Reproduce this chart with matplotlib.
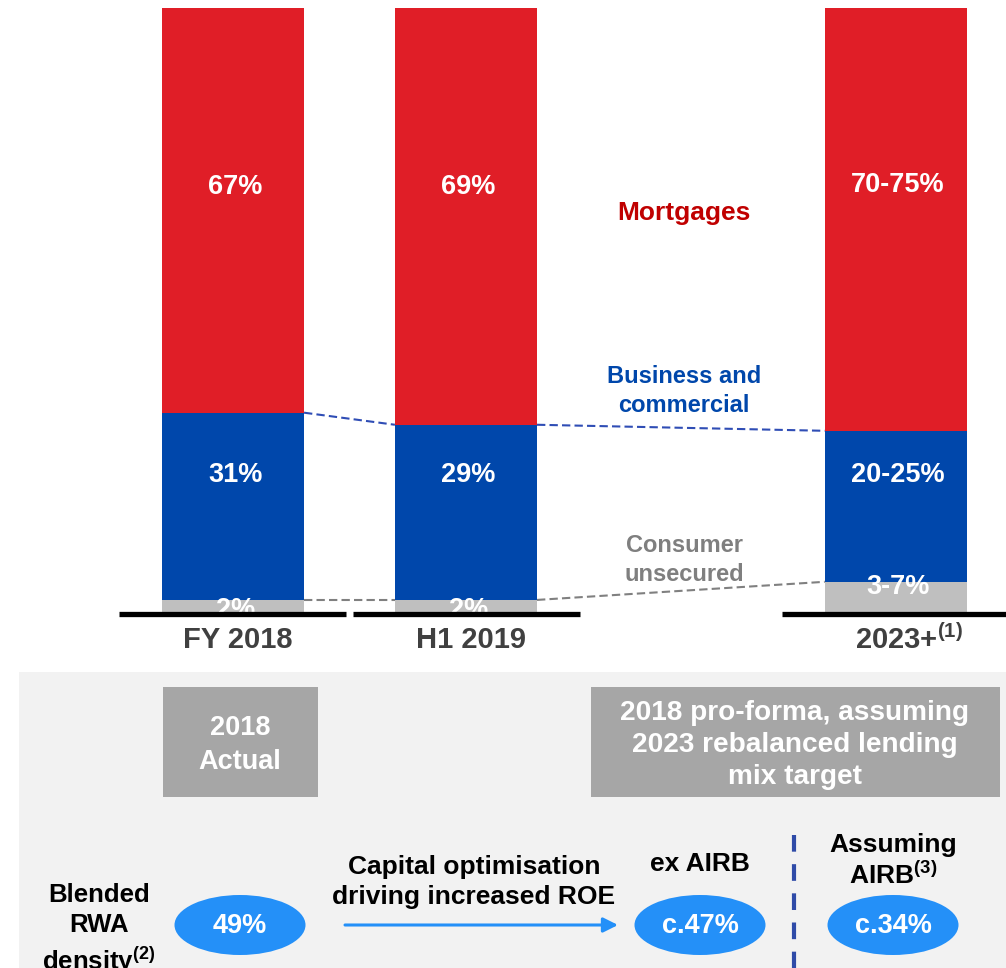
import numpy as np
import matplotlib.pyplot as plt
from matplotlib.patches import Rectangle, Ellipse

plt.rcParams['font.family'] = ['Liberation Sans', 'DejaVu Sans']
plt.rcParams['font.weight'] = 'bold'
plt.rcParams['mathtext.fontset'] = 'custom'
plt.rcParams['mathtext.rm'] = 'Liberation Sans:bold'
plt.rcParams['mathtext.default'] = 'rm'

# lending mix per period (% of book)
periods = ['FY 2018', 'H1 2019', '2023+$^{(1)}$']
consumer = [2, 2, 5]
business = [31, 29, 25]
mortgages = [67, 69, 70]
consumer_labels = ['2%', '2%', '3-7%']
business_labels = ['31%', '29%', '20-25%']
mortgage_labels = ['67%', '69%', '70-75%']

# RWA density row
rwa_values = ['49%', 'c.47%', 'c.34%']

RED = '#E01E27'
BLUE = '#0047AB'
GREY = '#BFBFBF'
LIGHT_BLUE = '#2490F8'

fig = plt.figure(figsize=(10.06, 9.68), dpi=100)

# ---- stacked bars ----
ax = fig.add_axes([0, 356 / 968, 1, 604 / 968])
ax.set_xlim(-1.0, 3.318)
ax.set_ylim(0, 100)
ax.axis('off')

x = np.array([0, 1, 2.845])
w = 0.61
cons = np.array(consumer)
bus = np.array(business)
mort = np.array(mortgages)

ax.bar(x, cons, w, color=GREY, zorder=2)
ax.bar(x, bus, w, bottom=cons, color=BLUE, zorder=2)
ax.bar(x, mort, w, bottom=cons + bus, color=RED, zorder=2)

# dashed connectors between segment tops
for i in range(len(x) - 1):
    xs = [x[i] + w / 2, x[i + 1] - w / 2]
    ax.plot(xs, [cons[i] + bus[i], cons[i + 1] + bus[i + 1]], color='#2F4DB5',
            lw=1.5, ls=(0, (4, 2)), zorder=1)
    ax.plot(xs, [cons[i], cons[i + 1]], color='#808080',
            lw=1.5, ls=(0, (4, 2)), zorder=1)

# in-bar labels
label_y_red = [70.4, 70.4, 70.7]
label_y_blue = [22.7, 22.7, 22.7]
label_y_grey = [0.3, 0.3, 4.2]
for i in range(len(x)):
    ax.text(x[i] + 0.01, label_y_red[i], mortgage_labels[i], color='white',
            fontsize=19.5, ha='center', va='center', zorder=3)
    ax.text(x[i] + 0.01, label_y_blue[i], business_labels[i], color='white',
            fontsize=19.5, ha='center', va='center', zorder=3)
    ax.text(x[i] + 0.01, label_y_grey[i], consumer_labels[i], color='white',
            fontsize=19.5, ha='center', va='center', zorder=3)

# baseline segments
for x0, x1 in [(-0.489, 0.485), (0.515, 1.489), (2.356, 3.318)]:
    ax.plot([x0, x1], [-0.35, -0.35], color='black', lw=3.8,
            solid_capstyle='butt', clip_on=False, zorder=4)

label_dx = [0.02, 0.02, 0.055]
for i in range(len(x)):
    ax.text(x[i] + label_dx[i], -4.6, periods[i], color='#404040', fontsize=21,
            ha='center', va='center', clip_on=False)

# series names
ax.text(1.936, 66.1, 'Mortgages', color='#C00000', fontsize=19,
        ha='center', va='center')
ax.text(1.936, 36.6, 'Business and\ncommercial', color=BLUE, fontsize=17,
        ha='center', va='center', linespacing=1.3)
ax.text(1.936, 8.6, 'Consumer\nunsecured', color='#7F7F7F', fontsize=17,
        ha='center', va='center', linespacing=1.3)

# ---- RWA density panel ----
ax2 = fig.add_axes([0, 0, 1, 1], zorder=-1)
ax2.set_xlim(0, 1006)
ax2.set_ylim(968, 0)
ax2.axis('off')

ax2.add_patch(Rectangle((19, 672), 990, 300, color='#F2F2F2', lw=0))
ax2.add_patch(Rectangle((163, 687), 155, 110, color='#A6A6A6', lw=0))
ax2.add_patch(Rectangle((591, 687), 409, 110, color='#A6A6A6', lw=0))
ax2.text(240, 745, '2018\nActual', color='white', fontsize=19.5,
         ha='center', va='center', linespacing=1.38)
ax2.text(795, 745, '2018 pro-forma, assuming\n2023 rebalanced lending\nmix target',
         color='white', fontsize=20.2, ha='center', va='center', linespacing=1.3)

ax2.text(99, 930, 'Blended\nRWA\ndensity$^{(2)}$', color='black', fontsize=18.5,
         ha='center', va='center', linespacing=1.33)
ax2.text(474, 882, 'Capital optimisation\ndriving increased ROE', color='black',
         fontsize=19, ha='center', va='center', linespacing=1.32)
ax2.text(700, 864, 'ex AIRB', color='black', fontsize=19, ha='center', va='center')
ax2.text(893, 861, 'Assuming\nAIRB$^{(3)}$', color='black', fontsize=19,
         ha='center', va='center', linespacing=1.25)

ax2.annotate('', xy=(618, 925), xytext=(345, 925),
             arrowprops=dict(arrowstyle='-|>', color=LIGHT_BLUE, lw=2.2,
                             mutation_scale=22, shrinkA=0, shrinkB=0))
ax2.plot([794, 794], [835, 968], color='#2F4BA8', lw=3, ls=(0, (4, 3)))

for cx, val in zip([240, 700, 893], rwa_values):
    ax2.add_patch(Ellipse((cx, 925), 131, 60, color=LIGHT_BLUE, lw=0))
    ax2.text(cx, 926, val, color='white', fontsize=19.5, ha='center', va='center')

fig.savefig('out.png', dpi=100)
